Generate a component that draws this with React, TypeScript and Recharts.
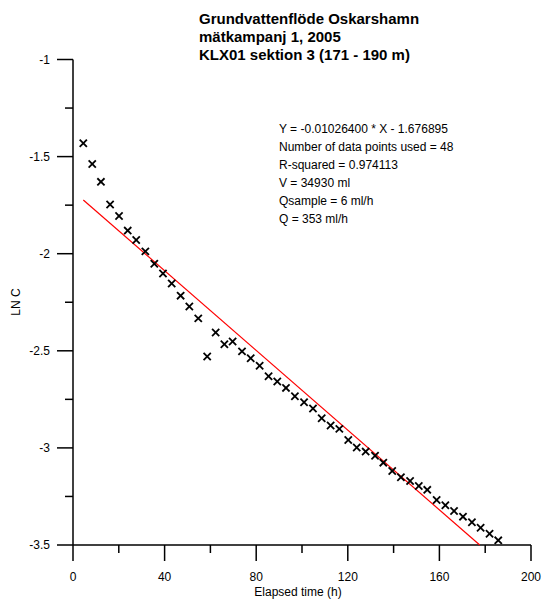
import { ScatterChart, Scatter, XAxis, YAxis } from "recharts";

const elapsedTime = [
  4.5, 8.4, 12.2, 16.2, 20.1, 23.9, 27.6, 31.6, 35.5, 39.3, 43.1, 47.0,
  50.8, 54.7, 58.6, 62.3, 66.1, 69.7, 73.8, 77.6, 81.5, 85.4, 89.2, 93.0,
  96.9, 100.9, 104.8, 108.6, 112.5, 116.3, 120.2, 123.9, 127.8, 131.9, 135.5, 139.4,
  143.2, 147.2, 151.0, 154.7, 158.8, 162.6, 166.4, 170.3, 174.2, 178.0, 181.9, 185.7,
];
const lnC = [
  -1.431, -1.538, -1.63, -1.747, -1.806, -1.881, -1.929, -1.988, -2.052, -2.102, -2.153, -2.216,
  -2.272, -2.333, -2.529, -2.406, -2.466, -2.452, -2.503, -2.538, -2.577, -2.631, -2.658, -2.691,
  -2.734, -2.765, -2.797, -2.847, -2.885, -2.902, -2.959, -2.998, -3.019, -3.04, -3.076, -3.119,
  -3.151, -3.17, -3.196, -3.216, -3.268, -3.295, -3.325, -3.354, -3.383, -3.411, -3.442, -3.476,
];

const xTicks = [0, 20, 40, 60, 80, 100, 120, 140, 160, 180, 200];
const yTicks = [-3.5, -3.25, -3, -2.75, -2.5, -2.25, -2, -1.75, -1.5, -1.25, -1];

const fitSlope = -0.010264;
const fitIntercept = -1.676895;

const titleLines = [
  "Grundvattenflöde Oskarshamn",
  "mätkampanj 1, 2005",
  "KLX01 sektion 3 (171 - 190 m)",
];
const statsLines = [
  "Y = -0.01026400 * X - 1.676895",
  "Number of data points used = 48",
  "R-squared = 0.974113",
  "V = 34930 ml",
  "Qsample = 6 ml/h",
  "Q = 353 ml/h",
];

const points = elapsedTime.map((t, i) => ({ x: t, y: lnC[i] }));
const yMin = yTicks[0];
const fitLine = [
  { x: elapsedTime[0], y: fitSlope * elapsedTime[0] + fitIntercept },
  { x: (yMin - fitIntercept) / fitSlope, y: yMin },
];

function Cross(props: any) {
  const { cx, cy } = props;
  const r = 3.6;
  return (
    <g stroke="#000" strokeWidth={1.8}>
      <line x1={cx - r} y1={cy - r} x2={cx + r} y2={cy + r} />
      <line x1={cx - r} y1={cy + r} x2={cx + r} y2={cy - r} />
    </g>
  );
}

function YTick(props: any) {
  const { x, y, payload } = props;
  const v = payload.value;
  const major = Math.abs(v * 2 - Math.round(v * 2)) < 1e-6;
  const len = major ? 16 : 8;
  return (
    <g>
      <line x1={x - len} x2={x} y1={y} y2={y} stroke="#000" strokeWidth={1.5} />
      {major && (
        <text x={x - 23} y={y + 4} textAnchor="end" fontSize={12} fill="#000">
          {v}
        </text>
      )}
    </g>
  );
}

function XTick(props: any) {
  const { x, y, payload } = props;
  const v = payload.value;
  const major = v % 40 === 0;
  const len = major ? 16 : 8;
  return (
    <g>
      <line x1={x} x2={x} y1={y} y2={y + len} stroke="#000" strokeWidth={1.5} />
      {major && (
        <text x={x} y={y + 36} textAnchor="middle" fontSize={12} fill="#000">
          {v}
        </text>
      )}
    </g>
  );
}

export default function App() {
  return (
    <div
      style={{
        position: "absolute",
        left: 0,
        top: 0,
        width: 544,
        height: 601,
        background: "#fff",
        fontFamily: "'Liberation Sans', Arial, sans-serif",
      }}
    >
      <ScatterChart width={544} height={601} margin={{ top: 59.5, right: 13, bottom: 16, left: 13 }}>
        <XAxis
          type="number"
          dataKey="x"
          domain={[0, 200]}
          ticks={xTicks}
          tickSize={0}
          tickMargin={0}
          tickLine={false}
          tick={<XTick />}
          height={40}
          axisLine={{ stroke: "#000", strokeWidth: 1.5 }}
          interval={0}
        />
        <YAxis
          type="number"
          dataKey="y"
          domain={[-3.5, -1]}
          ticks={yTicks}
          tickSize={0}
          tickMargin={0}
          tickLine={false}
          tick={<YTick />}
          width={60}
          axisLine={{ stroke: "#000", strokeWidth: 1.5 }}
          interval={0}
        />
        <Scatter
          data={fitLine}
          line={{ stroke: "#ff0000", strokeWidth: 1.2 }}
          shape={() => <g />}
          isAnimationActive={false}
        />
        <Scatter data={points} shape={<Cross />} isAnimationActive={false} />
      </ScatterChart>

      <div
        style={{
          position: "absolute",
          left: 199,
          top: 10,
          fontSize: 15,
          fontWeight: "bold",
          lineHeight: "18px",
          color: "#000",
          whiteSpace: "nowrap",
        }}
      >
        {titleLines.map((t) => (
          <div key={t}>{t}</div>
        ))}
      </div>

      <div
        style={{
          position: "absolute",
          left: 279,
          top: 120,
          fontSize: 12,
          lineHeight: "18px",
          color: "#000",
          whiteSpace: "nowrap",
        }}
      >
        {statsLines.map((t) => (
          <div key={t}>{t}</div>
        ))}
      </div>

      <div
        style={{
          position: "absolute",
          left: 298,
          top: 585,
          transform: "translateX(-50%)",
          fontSize: 12,
          whiteSpace: "nowrap",
        }}
      >
        Elapsed time (h)
      </div>
      <div
        style={{
          position: "absolute",
          left: 16,
          top: 302,
          transform: "translate(-50%, -50%) rotate(-90deg)",
          fontSize: 12,
          whiteSpace: "nowrap",
        }}
      >
        LN C
      </div>
    </div>
  );
}
